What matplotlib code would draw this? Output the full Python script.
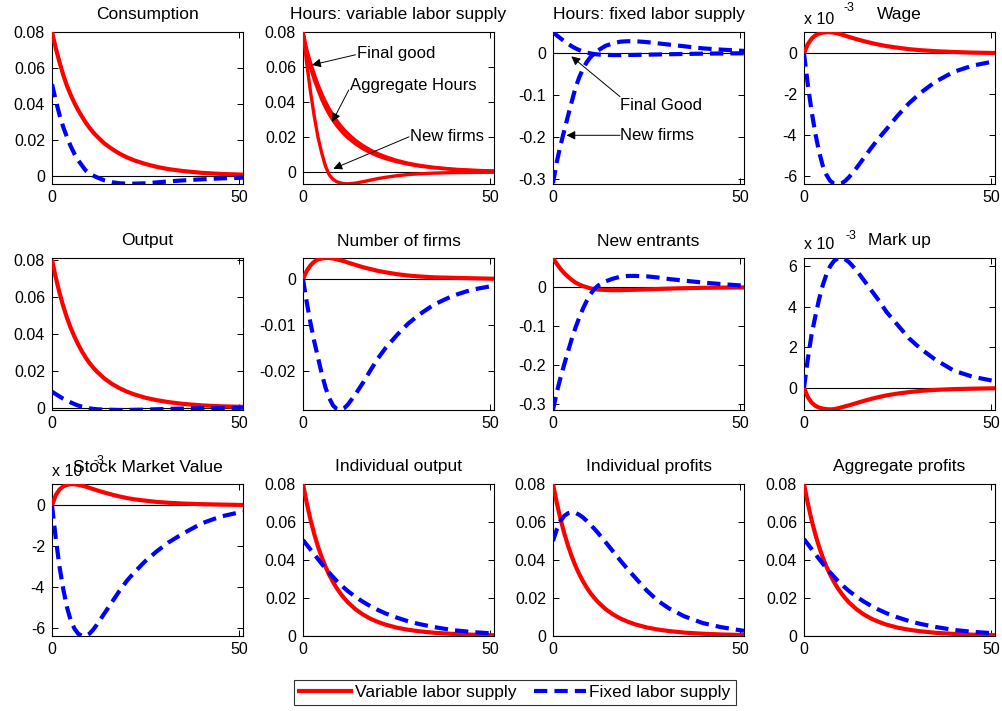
import matplotlib
matplotlib.use("Agg")
import matplotlib.pyplot as plt
from matplotlib.lines import Line2D

plt.rcParams['font.family'] = ['Liberation Sans', 'DejaVu Sans']
plt.rcParams['axes.unicode_minus'] = False

# ---------------- data ----------------
t = [0, 1, 2, 3, 4, 5, 6, 7, 8, 9, 10, 11, 12, 14, 16, 18, 20, 22, 25, 28, 31, 35, 40, 45, 51]

cons_var = [.0800, .0711, .0632, .0562, .0500, .0450, .0405, .0365, .0330, .0297, .0268, .0242, .0220,
            .0180, .0150, .0124, .0103, .0086, .0066, .0050, .0038, .0027, .0017, .0011, .0007]
cons_fix = [.0510, .0420, .0340, .0272, .0215, .0165, .0122, .0087, .0058, .0030, .0014, .0002, -.0008,
            -.0025, -.0035, -.0041, -.0043, -.0043, -.0041, -.0036, -.0031, -.0025, -.0019, -.0014, -.0010]

hours_final_var = [.0800, .0700, .0625, .0560, .0500, .0448, .0402, .0362, .0327, .0295, .0267, .0242, .0220,
                   .0182, .0152, .0127, .0106, .0089, .0068, .0052, .0040, .0028, .0018, .0012, .0007]
hours_agg_var = [.0800, .0685, .0598, .0528, .0470, .0415, .0370, .0330, .0296, .0266, .0240, .0217, .0196,
                 .0162, .0134, .0112, .0093, .0078, .0060, .0046, .0035, .0025, .0016, .0010, .0006]
hours_new_var = [.0800, .0620, .0460, .0320, .0200, .0110, .0035, -.0015, -.0040, -.0054, -.0061, -.0065, -.0066,
                 -.0062, -.0054, -.0045, -.0036, -.0029, -.0020, -.0013, -.0009, -.0005, -.0002, -.0001, .0000]

hours_final_fix = [.050, .042, .035, .028, .022, .016, .011, .007, .0035, .001, -.001, -.0025, -.0035,
                   -.0045, -.005, -.005, -.0048, -.0045, -.004, -.0035, -.003, -.0023, -.0016, -.0011, -.0007]
hours_new_fix = [-.310, -.260, -.220, -.185, -.150, -.116, -.083, -.058, -.038, -.022, -.010, -.001, .006,
                 .017, .023, .027, .028, .028, .026, .023, .020, .016, .011, .008, .005]

wage_var = [0, .45, .72, .88, .97, 1.02, 1.04, 1.04, 1.02, .98, .93, .87, .81,
            .70, .60, .51, .43, .36, .28, .21, .16, .11, .07, .04, .02]
wage_fix = [0, -1.5, -2.8, -3.9, -4.8, -5.5, -5.95, -6.25, -6.38, -6.42, -6.38, -6.25, -6.07,
            -5.62, -5.12, -4.62, -4.15, -3.72, -3.05, -2.45, -1.95, -1.40, -0.90, -0.60, -0.38]

out_var = [.0800, .0705, .0622, .0550, .0487, .0432, .0385, .0343, .0305, .0272, .0243, .0218, .0196,
           .0159, .0130, .0107, .0088, .0073, .0055, .0042, .0032, .0022, .0014, .0009, .0006]
out_fix = [.0088, .0075, .0062, .0050, .0040, .0030, .0021, .0013, .0007, .0002, -.0002, -.0005, -.0007,
           -.0009, -.0010, -.0011, -.0011, -.0010, -.0009, -.0007, -.0005, -.0003, -.0001, .0000, .0001]

nfirms_var = [0, .0018, .0030, .0038, .0043, .0045, .0046, .0046, .0045, .0043, .0041, .0039, .0036,
              .0031, .0026, .0022, .0018, .0015, .0011, .0008, .0006, .0004, .0003, .0002, .0001]
nfirms_fix = [0, -.0050, -.0095, -.0135, -.0170, -.0205, -.0235, -.0258, -.0274, -.0282, -.0284, -.0280, -.0272,
              -.0250, -.0225, -.0198, -.0172, -.0150, -.0122, -.0097, -.0077, -.0055, -.0036, -.0023, -.0014]

entr_var = [.075, .060, .047, .036, .027, .019, .012, .007, .003, .000, -.003, -.005, -.006,
            -.007, -.0075, -.0075, -.007, -.0065, -.0055, -.0045, -.0035, -.0025, -.0015, -.001, -.0005]
entr_fix = [-.315, -.270, -.232, -.198, -.165, -.133, -.104, -.078, -.055, -.035, -.018, -.005, .004,
            .015, .022, .027, .029, .029, .028, .025, .021, .017, .012, .008, .004]

markup_var = [0, -.45, -.72, -.88, -.97, -1.02, -1.05, -1.06, -1.05, -1.01, -.96, -.91, -.86,
              -.75, -.64, -.54, -.45, -.37, -.28, -.21, -.15, -.10, -.06, -.04, -.02]
markup_fix = [0, 1.4, 2.6, 3.5, 4.35, 5.05, 5.6, 6.0, 6.25, 6.38, 6.4, 6.33, 6.2,
              5.8, 5.3, 4.8, 4.3, 3.75, 3.1, 2.45, 1.95, 1.4, 0.85, 0.55, 0.33]

stock_var = [0, .5, .78, .93, 1.01, 1.04, 1.04, 1.01, .97, .92, .86, .80, .74,
             .63, .53, .44, .36, .30, .23, .17, .13, .09, .06, .04, .02]
stock_fix = [0, -1.6, -3.0, -4.1, -5.0, -5.65, -6.05, -6.3, -6.4, -6.4, -6.3, -6.1, -5.85,
             -5.3, -4.75, -4.2, -3.7, -3.28, -2.72, -2.25, -1.83, -1.38, -0.88, -0.55, -0.30]

indout_var = [.0800, .0700, .0612, .0537, .0471, .0414, .0365, .0322, .0285, .0252, .0224, .0199, .0177,
              .0141, .0113, .0091, .0074, .0060, .0044, .0033, .0025, .0017, .0011, .0007, .0004]
indout_fix = [.0505, .0480, .0455, .0430, .0405, .0380, .0356, .0333, .0311, .0290, .0271, .0253, .0236,
              .0206, .0180, .0157, .0137, .0119, .0097, .0078, .0063, .0047, .0031, .0021, .0013]

indprof_var = [.0800, .0702, .0616, .0541, .0476, .0419, .0369, .0326, .0288, .0255, .0226, .0201, .0179,
               .0142, .0114, .0092, .0075, .0061, .0045, .0034, .0026, .0018, .0012, .0008, .0005]
indprof_fix = [.050, .056, .0605, .0632, .0646, .0651, .0648, .0638, .0624, .0606, .0586, .0565, .0543,
               .0495, .0446, .0397, .0350, .0306, .0240, .0185, .0145, .0104, .0068, .0046, .0027]

aggprof_var = [.0800, .0700, .0612, .0537, .0471, .0414, .0365, .0322, .0285, .0252, .0224, .0199, .0177,
               .0141, .0113, .0091, .0074, .0060, .0044, .0033, .0025, .0017, .0011, .0007, .0004]
aggprof_fix = [.0510, .0484, .0458, .0432, .0406, .0381, .0357, .0334, .0312, .0291, .0272, .0254, .0237,
               .0207, .0181, .0158, .0138, .0120, .0098, .0079, .0064, .0048, .0032, .0022, .0014]

titles = ["Consumption", "Hours: variable labor supply", "Hours: fixed labor supply", "Wage",
          "Output", "Number of firms", "New entrants", "Mark up",
          "Stock Market Value", "Individual output", "Individual profits", "Aggregate profits"]

RED = '#ff0000'
BLUE = '#0000ff'
LW = 3.0
DASH = (3.2, 1.7)
TICKFS = 11.5
TITLEFS = 12.5
ANNFS = 12

W, H = 1002, 711
fig = plt.figure(figsize=(W / 100, H / 100), dpi=100)

lefts = [52, 303, 553, 804]
tops = [32, 258, 484]
aw, ah = 191, 152


def make_ax(r, c):
    ax = fig.add_axes([lefts[c] / W, 1 - (tops[r] + ah) / H, aw / W, ah / H])
    ax.tick_params(direction='in', top=True, right=True, length=4, width=0.7,
                   labelsize=TICKFS, pad=5)
    ax.tick_params(axis='x', pad=4)
    for s in ax.spines.values():
        s.set_linewidth(0.8)
    ax.set_xlim(0, 51)
    ax.set_xticks([0, 50])
    ax.set_xticklabels(['0', '50'])
    ax.axhline(0, color='k', lw=0.8, zorder=1)
    return ax


def red(ax, y):
    ax.plot(t, y, color=RED, lw=LW, solid_capstyle='butt', zorder=3)


def blue(ax, y):
    ax.plot(t, y, color=BLUE, lw=LW, dashes=DASH, dash_capstyle='butt', zorder=3)


def yt(ax, vals, labels):
    ax.set_yticks(vals)
    ax.set_yticklabels(labels)


def expo(ax, x_lab, y_lab, x_exp, y_exp):
    ax.text(x_lab, y_lab, 'x 10', transform=ax.transAxes, fontsize=TICKFS, ha='left', va='center')
    ax.text(x_exp, y_exp, '-3', transform=ax.transAxes, fontsize=9, ha='left', va='center')


def arrow(ax, tip, tail):
    ax.annotate('', xy=tip, xytext=tail,
                arrowprops=dict(arrowstyle='-|>', color='k', lw=0.7, mutation_scale=13,
                                shrinkA=0, shrinkB=0), zorder=5)


axes = []
for r in range(3):
    for c in range(4):
        axes.append(make_ax(r, c))

for ax, ttl in zip(axes, titles):
    ax.set_title(ttl, fontsize=TITLEFS, pad=9)

# 1 Consumption
ax = axes[0]
red(ax, cons_var); blue(ax, cons_fix)
ax.set_ylim(-0.0045, 0.08)
yt(ax, [0, .02, .04, .06, .08], ['0', '0.02', '0.04', '0.06', '0.08'])

# 2 Hours variable
ax = axes[1]
ax.plot(t, hours_final_var, color=RED, lw=2.4, zorder=3)
ax.plot(t, hours_agg_var, color=RED, lw=2.4, zorder=3)
ax.plot(t, hours_new_var, color=RED, lw=2.4, zorder=3)
ax.set_ylim(-0.0067, 0.08)
yt(ax, [0, .02, .04, .06, .08], ['0', '0.02', '0.04', '0.06', '0.08'])
ax.text(14.5, 0.068, 'Final good', fontsize=ANNFS, ha='left', va='center')
arrow(ax, (2.4, 0.0612), (14.0, 0.067))
ax.text(12.5, 0.0494, 'Aggregate Hours', fontsize=ANNFS, ha='left', va='center')
arrow(ax, (7.8, 0.0287), (12.2, 0.0469))
ax.text(28.5, 0.0205, 'New firms', fontsize=ANNFS, ha='left', va='center')
arrow(ax, (8.1, 0.0020), (28.3, 0.0202))

# 3 Hours fixed
ax = axes[2]
blue(ax, hours_final_fix); blue(ax, hours_new_fix)
ax.set_ylim(-0.312, 0.05)
yt(ax, [-.3, -.2, -.1, 0], ['-0.3', '-0.2', '-0.1', '0'])
ax.text(17.9, -0.126, 'Final Good', fontsize=ANNFS, ha='left', va='center')
arrow(ax, (4.9, -0.008), (17.9, -0.104))
ax.text(18.0, -0.196, 'New firms', fontsize=ANNFS, ha='left', va='center')
arrow(ax, (3.6, -0.196), (17.9, -0.196))

# 4 Wage
ax = axes[3]
red(ax, wage_var); blue(ax, wage_fix)
ax.set_ylim(-6.4, 1.05)
yt(ax, [-6, -4, -2, 0], ['-6', '-4', '-2', '0'])
expo(ax, 0.0, 1.079, 0.205, 1.155)

# 5 Output
ax = axes[4]
red(ax, out_var); blue(ax, out_fix)
ax.set_ylim(-0.0011, 0.081)
yt(ax, [0, .02, .04, .06, .08], ['0', '0.02', '0.04', '0.06', '0.08'])

# 6 Number of firms
ax = axes[5]
red(ax, nfirms_var); blue(ax, nfirms_fix)
ax.set_ylim(-0.0284, 0.0046)
yt(ax, [-.02, -.01, 0], ['-0.02', '-0.01', '0'])

# 7 New entrants
ax = axes[6]
red(ax, entr_var); blue(ax, entr_fix)
ax.set_ylim(-0.315, 0.075)
yt(ax, [-.3, -.2, -.1, 0], ['-0.3', '-0.2', '-0.1', '0'])

# 8 Markup
ax = axes[7]
red(ax, markup_var); blue(ax, markup_fix)
ax.set_ylim(-1.09, 6.4)
yt(ax, [0, 2, 4, 6], ['0', '2', '4', '6'])
expo(ax, 0.0, 1.086, 0.215, 1.148)

# 9 Stock market value
ax = axes[8]
red(ax, stock_var); blue(ax, stock_fix)
ax.set_ylim(-6.41, 1.05)
yt(ax, [-6, -4, -2, 0], ['-6', '-4', '-2', '0'])
expo(ax, 0.0, 1.079, 0.215, 1.15)

# 10 Individual output
ax = axes[9]
red(ax, indout_var); blue(ax, indout_fix)
ax.set_ylim(0, 0.08)
yt(ax, [0, .02, .04, .06, .08], ['0', '0.02', '0.04', '0.06', '0.08'])

# 11 Individual profits
ax = axes[10]
red(ax, indprof_var); blue(ax, indprof_fix)
ax.set_ylim(0, 0.08)
yt(ax, [0, .02, .04, .06, .08], ['0', '0.02', '0.04', '0.06', '0.08'])

# 12 Aggregate profits
ax = axes[11]
red(ax, aggprof_var); blue(ax, aggprof_fix)
ax.set_ylim(0, 0.08)
yt(ax, [0, .02, .04, .06, .08], ['0', '0.02', '0.04', '0.06', '0.08'])

handles = [Line2D([], [], color=RED, lw=LW),
           Line2D([], [], color=BLUE, lw=LW, dashes=DASH)]
leg = fig.legend(handles, ['Variable labor supply', 'Fixed labor supply'],
                 loc='center', bbox_to_anchor=(515 / W, 1 - 692.5 / H), ncol=2,
                 fontsize=12.5, frameon=True, fancybox=False, edgecolor='k',
                 handlelength=3.0, handletextpad=0.2, columnspacing=1.0,
                 borderpad=0.3, borderaxespad=0)
leg.get_frame().set_linewidth(0.8)

fig.savefig('out.png', dpi=100)
